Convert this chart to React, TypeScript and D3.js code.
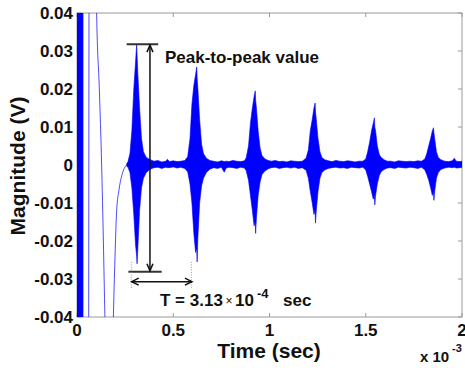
import React from "react";
import * as d3 from "d3";

// time in units of 1e-3 s, magnitude in V
const xTicks = [0, 0.5, 1, 1.5, 2];
const xTickLabels = ["0", "0.5", "1", "1.5", "2"];
const yTicks = [0.04, 0.03, 0.02, 0.01, 0, -0.01, -0.02, -0.03, -0.04];
const yTickLabels = ["0.04", "0.03", "0.02", "0.01", "0", "-0.01", "-0.02", "-0.03", "-0.04"];

// initial saturated oscillation block [t, lo, hi]
const onsetEnvelope: [number, number, number][] = [
  [0, -0.1, 0.1],
  [0.031, -0.1, 0.1],
];

// large decaying transient swing [t, v]
const transientTrace: [number, number][] = [
  [0.031, -0.09], [0.045, -0.11], [0.059, -0.09], [0.064, 0.09], [0.083, 0.12],
  [0.096, 0.06], [0.102, 0.04], [0.116, 0.02], [0.128, 0], [0.137, -0.02],
  [0.145, -0.04], [0.155, -0.06], [0.168, -0.07], [0.181, -0.06], [0.189, -0.04],
  [0.197, -0.025], [0.206, -0.012], [0.218, -0.0066], [0.237, -0.002], [0.258, 0],
];

// echo train envelope [t, lo, hi]
const signalEnvelope: [number, number, number][] = [
  [0.258, -0.0003, 0.0003], [0.265, -0.0006, 0.0009],
  // burst 1
  [0.275, -0.002, 0.003], [0.285, -0.006, 0.009], [0.295, -0.013, 0.02], [0.304, -0.021, 0.027],
  [0.31, -0.024, 0.0318], [0.312, -0.026, 0.029], [0.316, -0.022, 0.024], [0.325, -0.012, 0.015],
  [0.335, -0.006, 0.007], [0.345, -0.0035, 0.0035], [0.36, -0.002, 0.002], [0.38, -0.0011, 0.0014],
  [0.4, -0.0007, 0.001], [0.42, -0.0006, 0.0012], [0.44, -0.0009, 0.0008], [0.46, -0.0006, 0.001],
  [0.47, -0.0007, 0.0015], [0.48, -0.0007, 0.0009], [0.5, -0.0005, 0.0011], [0.52, -0.0008, 0.0009],
  [0.54, -0.0006, 0.001], [0.56, -0.0009, 0.0012],
  // burst 2
  [0.575, -0.0018, 0.0022], [0.587, -0.005, 0.007], [0.597, -0.01, 0.016], [0.607, -0.018, 0.021],
  [0.616, -0.023, 0.0238], [0.622, -0.022, 0.0258], [0.624, -0.0255, 0.023], [0.628, -0.019, 0.02],
  [0.637, -0.01, 0.012], [0.647, -0.0055, 0.0055], [0.657, -0.0035, 0.003], [0.672, -0.002, 0.0018],
  [0.69, -0.0011, 0.0012],
  [0.71, -0.0007, 0.001], [0.73, -0.0009, 0.0008], [0.75, -0.0006, 0.0011], [0.765, -0.0019, 0.0009],
  [0.775, -0.0008, 0.001], [0.79, -0.0006, 0.0009], [0.81, -0.0007, 0.0012], [0.83, -0.0009, 0.001],
  [0.85, -0.0006, 0.0009], [0.87, -0.0008, 0.0011],
  // burst 3
  [0.879, -0.0015, 0.0019], [0.891, -0.004, 0.005], [0.901, -0.008, 0.011], [0.911, -0.012, 0.015],
  [0.92, -0.016, 0.018], [0.926, -0.015, 0.0195], [0.928, -0.018, 0.017], [0.932, -0.014, 0.015],
  [0.941, -0.008, 0.009], [0.951, -0.0045, 0.0045], [0.961, -0.0025, 0.0025], [0.976, -0.0016, 0.0016],
  [0.994, -0.001, 0.0012],
  [1.01, -0.0007, 0.001], [1.03, -0.0006, 0.0012], [1.05, -0.0009, 0.0009], [1.07, -0.0007, 0.001],
  [1.09, -0.0006, 0.0008], [1.11, -0.0008, 0.0011], [1.13, -0.0006, 0.001], [1.15, -0.0009, 0.0009],
  [1.17, -0.0007, 0.001],
  // burst 4
  [1.19, -0.0014, 0.0018], [1.202, -0.0035, 0.004], [1.212, -0.007, 0.009], [1.222, -0.01, 0.012],
  [1.231, -0.013, 0.015], [1.237, -0.012, 0.0163], [1.239, -0.0153, 0.014], [1.243, -0.012, 0.012],
  [1.252, -0.007, 0.007], [1.262, -0.0035, 0.0035], [1.272, -0.002, 0.002], [1.287, -0.0013, 0.0014],
  [1.305, -0.0009, 0.0011],
  [1.325, -0.0007, 0.0009], [1.345, -0.0006, 0.0012], [1.365, -0.0008, 0.001], [1.385, -0.0007, 0.0009],
  [1.405, -0.0009, 0.0011], [1.425, -0.0006, 0.001], [1.445, -0.0007, 0.0008], [1.465, -0.0008, 0.001],
  [1.485, -0.0006, 0.001],
  // burst 5
  [1.5, -0.0013, 0.0016], [1.51, -0.003, 0.0035], [1.52, -0.005, 0.006], [1.53, -0.007, 0.009],
  [1.539, -0.009, 0.011], [1.545, -0.008, 0.0124], [1.547, -0.0105, 0.01], [1.551, -0.008, 0.009],
  [1.56, -0.005, 0.005], [1.57, -0.0028, 0.0028], [1.58, -0.0018, 0.002], [1.595, -0.0012, 0.0014],
  [1.612, -0.0008, 0.001],
  [1.63, -0.0007, 0.001], [1.65, -0.0009, 0.0008], [1.67, -0.0006, 0.0011], [1.69, -0.0007, 0.001],
  [1.71, -0.0008, 0.0009], [1.73, -0.0006, 0.001], [1.75, -0.0007, 0.0009], [1.77, -0.0009, 0.0011],
  [1.79, -0.0006, 0.001],
  // burst 6
  [1.807, -0.0013, 0.0016], [1.817, -0.0025, 0.003], [1.827, -0.004, 0.005], [1.837, -0.006, 0.007],
  [1.846, -0.008, 0.009], [1.852, -0.007, 0.0098], [1.854, -0.0093, 0.0085], [1.858, -0.007, 0.007],
  [1.867, -0.0035, 0.0035], [1.877, -0.002, 0.002], [1.89, -0.0012, 0.0014],
  [1.91, -0.0008, 0.001], [1.93, -0.0006, 0.0009], [1.95, -0.0007, 0.0011], [1.96, -0.0006, 0.0018],
  [1.97, -0.0008, 0.001], [1.99, -0.0007, 0.0009], [2.0, -0.0006, 0.001],
];

// annotation anchors (data units)
const peakTop = { t0: 0.258, t1: 0.422, v: 0.0318 };
const peakBottom = { t0: 0.267, t1: 0.44, v: -0.0281 };
const peakArrowT = 0.379;
const periodArrow = { t0: 0.284, t1: 0.597, v: -0.0307 };
const periodGuides = { t: [0.282, 0.594], v0: -0.0255, v1: -0.0325 };

const W = 465;
const H = 368;
const L = 77, R = 462, T = 13, B = 317;
const FONT = "'Liberation Sans', Arial, Helvetica, sans-serif";

export default function App() {
  const x = d3.scaleLinear().domain([0, 2]).range([L, R]);
  const y = d3.scaleLinear().domain([-0.04, 0.04]).range([B, T]);

  const area = d3
    .area<[number, number, number]>()
    .x((d) => x(d[0]))
    .y0((d) => y(d[1]))
    .y1((d) => y(d[2]));
  const line = d3
    .line<[number, number]>()
    .x((d) => x(d[0]))
    .y((d) => y(d[1]))
    .curve(d3.curveMonotoneX);

  const axisColor = "#9a9a9a";
  const tl = 4;
  const blue = "#0000ff";

  const ax = x(peakArrowT);
  const topY = y(peakTop.v);
  const botY = y(peakBottom.v);
  const hy = y(periodArrow.v);
  const hx0 = x(periodArrow.t0);
  const hx1 = x(periodArrow.t1);

  return (
    <svg
      width={W}
      height={H}
      style={{ position: "absolute", left: 0, top: 0, background: "#fff" }}
      fontFamily={FONT}
    >
      <defs>
        <clipPath id="plotclip">
          <rect x={L} y={T} width={R - L} height={B - T} />
        </clipPath>
      </defs>
      <rect x={0} y={0} width={W} height={H} fill="#fff" />

      {/* box + ticks */}
      <rect x={L} y={T} width={R - L} height={B - T} fill="none" stroke={axisColor} strokeWidth={1} />
      {xTicks.map((t, i) => (
        <g key={"xt" + i}>
          <line x1={x(t)} x2={x(t)} y1={B} y2={B - tl} stroke={axisColor} />
          <line x1={x(t)} x2={x(t)} y1={T} y2={T + tl} stroke={axisColor} />
        </g>
      ))}
      {yTicks.map((v, i) => (
        <g key={"yt" + i}>
          <line x1={L} x2={L + tl} y1={y(v)} y2={y(v)} stroke={axisColor} />
          <line x1={R} x2={R - tl} y1={y(v)} y2={y(v)} stroke={axisColor} />
        </g>
      ))}

      {/* signal */}
      <g clipPath="url(#plotclip)">
        <path d={area(onsetEnvelope) || ""} fill={blue} stroke={blue} strokeWidth={0.8} />
        <path d={line(transientTrace) || ""} fill="none" stroke={blue} strokeWidth={1} strokeOpacity={0.7} />
        <path d={area(signalEnvelope) || ""} fill={blue} stroke={blue} strokeWidth={0.6} />
      </g>

      {/* tick labels */}
      {yTicks.map((v, i) => (
        <text key={"yl" + i} x={73} y={y(v) + 6} textAnchor="end" fontSize={17} fontWeight="bold" fill="#111">
          {yTickLabels[i]}
        </text>
      ))}
      {xTicks.map((t, i) => (
        <text key={"xl" + i} x={x(t)} y={336} textAnchor="middle" fontSize={17} fontWeight="bold" fill="#111">
          {xTickLabels[i]}
        </text>
      ))}
      <text x={269} y={358} textAnchor="middle" fontSize={21} fontWeight="bold" fill="#111">
        Time (sec)
      </text>
      <text
        transform={`translate(25,166) rotate(-90)`}
        textAnchor="middle"
        fontSize={21}
        fontWeight="bold"
        fill="#111"
      >
        Magnitude (V)
      </text>
      <text x={420} y={362} fontSize={15} fontWeight="bold" fill="#111">
        x 10
      </text>
      <text x={452} y={352} fontSize={11} fontWeight="bold" fill="#111">
        -3
      </text>

      {/* peak-to-peak annotation */}
      <line x1={x(peakTop.t0)} x2={x(peakTop.t1)} y1={topY} y2={topY} stroke="#333" strokeWidth={2} />
      <line x1={x(peakBottom.t0)} x2={x(peakBottom.t1)} y1={botY} y2={botY} stroke="#333" strokeWidth={2} />
      <line x1={ax} x2={ax} y1={topY + 1} y2={botY - 1} stroke="#111" strokeWidth={1.5} />
      <path d={`M${ax - 3},${topY + 8} L${ax},${topY + 1} L${ax + 3},${topY + 8}`} fill="none" stroke="#111" strokeWidth={1.5} />
      <path d={`M${ax - 3},${botY - 8} L${ax},${botY - 1} L${ax + 3},${botY - 8}`} fill="none" stroke="#111" strokeWidth={1.5} />
      <text x={165} y={63} fontSize={17} fontWeight="bold" fill="#111">
        Peak-to-peak value
      </text>

      {/* period annotation */}
      {periodGuides.t.map((t, i) => (
        <line
          key={"pg" + i}
          x1={x(t)}
          x2={x(t)}
          y1={y(periodGuides.v0)}
          y2={y(periodGuides.v1)}
          stroke="#999"
          strokeWidth={1}
          strokeDasharray="1,1.5"
        />
      ))}
      <line x1={hx0} x2={hx1} y1={hy} y2={hy} stroke="#111" strokeWidth={1.5} />
      <path d={`M${hx0 + 7},${hy - 3.5} L${hx0},${hy} L${hx0 + 7},${hy + 3.5}`} fill="none" stroke="#111" strokeWidth={1.5} />
      <path d={`M${hx1 - 7},${hy - 3.5} L${hx1},${hy} L${hx1 - 7},${hy + 3.5}`} fill="none" stroke="#111" strokeWidth={1.5} />
      <text x={160} y={306} fontSize={17} fontWeight="bold" fill="#111">
        T = 3.13
      </text>
      <text x={225.5} y={305} fontSize={12} fill="#111">
        ×
      </text>
      <text x={235} y={306} fontSize={17} fontWeight="bold" fill="#111">
        10
      </text>
      <text x={257} y={298} fontSize={13} fontWeight="bold" fill="#111">
        -4
      </text>
      <text x={283} y={306} fontSize={17} fontWeight="bold" fill="#111">
        sec
      </text>
    </svg>
  );
}
